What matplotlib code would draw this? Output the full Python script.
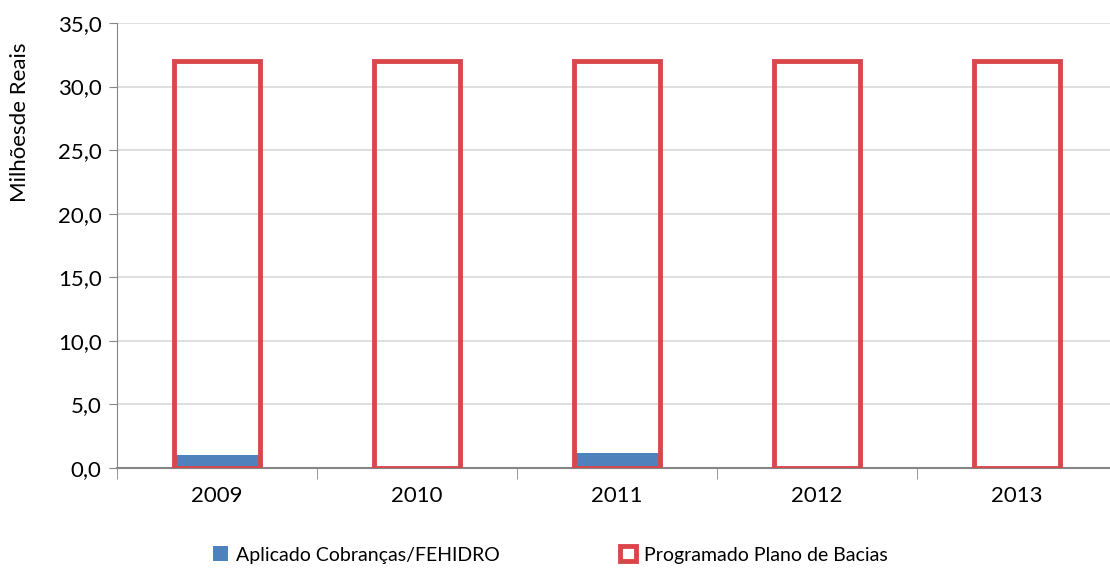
import matplotlib.pyplot as plt
import numpy as np

# dados
anos = ['2009', '2010', '2011', '2012', '2013']
aplicado = [1.0, 0.0, 1.2, 0.0, 0.1]
programado = [32.0, 32.0, 32.0, 32.0, 32.0]
yticks = [0, 5, 10, 15, 20, 25, 30, 35]

plt.rcParams['font.family'] = ['Lato', 'DejaVu Sans']

fig = plt.figure(figsize=(11.1, 5.71), dpi=100)
ax = fig.add_axes([117 / 1110, 103 / 571, 1000 / 1110, 445 / 571])

x = np.arange(len(anos))
w = 0.43
ax.bar(x, aplicado, width=w, color='#4f81bd', zorder=2, label='Aplicado Cobranças/FEHIDRO')
ax.bar(x, programado, width=w, facecolor='none', edgecolor='#d9474b', linewidth=3.5, zorder=3,
       label='Programado Plano de Bacias')

ax.set_xlim(-0.5, len(anos) - 0.5)
ax.set_ylim(0, 35)
ax.set_yticks(yticks)
ax.set_yticklabels([f'{v:.1f}'.replace('.', ',') for v in yticks], fontsize=16)
ax.set_xticks(x)
ax.set_xticklabels(anos, fontsize=16)
ax.set_xticks(np.arange(len(anos) + 1) - 0.5, minor=True)
ax.tick_params(axis='x', which='major', length=0, pad=13)
ax.tick_params(axis='x', which='minor', length=8, color='#868686', direction='out')
ax.tick_params(axis='y', length=6, color='#868686', direction='out', pad=5)

ax.grid(axis='y', color='#d9d9d9', linewidth=1.2, zorder=0)
for s in ['top', 'right']:
    ax.spines[s].set_visible(False)
ax.spines['left'].set_color('#868686')
ax.spines['bottom'].set_color('#868686')
ax.spines['bottom'].set_linewidth(1.5)

fig.text(20 / 1110, 1 - 122 / 571, 'Milhõesde Reais', rotation=90, ha='center', va='center', fontsize=16)

fig.legend(loc='center', bbox_to_anchor=(550 / 1110, 0.028), ncol=2, frameon=False, fontsize=14,
           handlelength=0.8, handleheight=0.8, columnspacing=6.2, handletextpad=0.4)

fig.savefig('out.png', dpi=100)
